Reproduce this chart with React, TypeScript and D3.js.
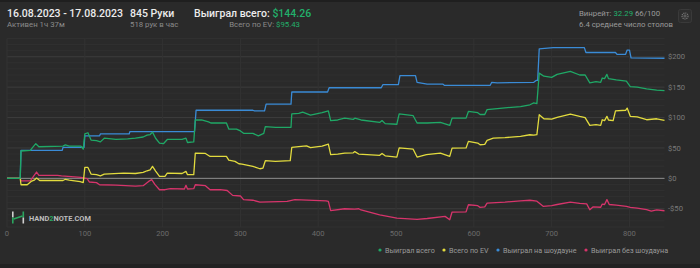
import React from "react";
import * as d3 from "d3";

type Pt = [number, number];

const xTicks = [0, 100, 200, 300, 400, 500, 600, 700, 800];
const yTicks = [-50, 0, 50, 100, 150, 200];
const yTickLabels = ["-$50", "$0", "$50", "$100", "$150", "$200"];
const legendLabels = ["Выиграл всего", "Всего по EV", "Выиграл на шоудауне", "Выиграл без шоудауна"];

const wonTotal: Pt[] = [[0,0],[17,0],[18,45],[30,46],[33,51],[37,57],[41,52],[72,53],[75,55],[80,53],[95,53],[98,48],[100,73],[104,75],[108,63],[115,62],[120,60],[125,66],[140,64],[155,65],[165,66],[175,68],[180,71],[184,72],[187,76],[191,66],[196,58],[201,57],[206,64],[225,64],[230,66],[232,59],[240,60],[242,96],[250,96],[259,93],[262,91],[282,91],[285,81],[295,81],[300,78],[304,74],[316,74],[323,70],[330,74],[332,85],[345,84],[365,84],[366,106],[375,107],[380,109],[390,104],[405,108],[413,111],[416,95],[425,96],[434,99],[445,97],[447,99],[455,96],[479,92],[482,95],[486,90],[501,89],[504,106],[522,103],[527,91],[540,91],[557,92],[569,87],[572,99],[590,99],[593,110],[605,108],[608,105],[614,105],[617,113],[640,116],[660,118],[672,121],[677,124],[681,123],[684,173],[690,168],[700,166],[707,171],[724,176],[736,170],[743,170],[749,157],[757,159],[763,158],[765,165],[768,164],[771,171],[773,164],[783,162],[796,160],[801,151],[810,150],[822,147],[835,145],[845,144.26]];

const evTotal: Pt[] = [[0,0],[17,0],[18,-10.5],[26,-10.5],[31,-5],[35,-3],[38,0.5],[42,-3.5],[72,-3.5],[75,-1.5],[80,-3],[94,-5.5],[98,-7],[100,18],[104,18],[108,7],[115,6],[120,4],[125,7],[150,8.7],[165,8],[175,10],[180,12.5],[184,14],[187,19.7],[191,12],[196,3.3],[203,3.3],[206,8.7],[225,8],[230,11.5],[232,6],[240,6],[242,41.6],[255,41],[261,36],[282,36],[285,30],[293,28],[298,24],[302,23.5],[316,19.7],[325,15.8],[329,17],[332,29],[345,28],[364,29],[366,51],[378,52.6],[385,53.5],[390,50.5],[405,53],[413,56.4],[416,39],[425,40],[434,41.6],[445,42],[447,44],[452,40],[479,37.8],[482,41],[486,37],[501,35],[504,50],[522,48],[527,35],[539,39],[557,41.6],[569,36.2],[572,49.8],[590,50],[593,60.8],[605,58],[608,55.3],[614,56],[617,62.5],[625,66.3],[640,67],[660,69],[672,71.7],[677,71],[681,72],[684,104.6],[690,98],[700,97.5],[707,100.3],[724,105.8],[736,102],[743,100],[749,87.2],[757,88.5],[763,87.2],[765,96.4],[768,95],[771,102],[773,96],[779,95],[782,111],[795,112],[797,115.6],[801,102],[810,101],[822,96.4],[835,98],[845,95.43]];

const showdown: Pt[] = [[0,0],[17,0],[18,46],[71,46],[72,51],[99,51],[100,70],[119,70],[120,73],[157,73],[158,77],[241,77],[243,112],[316,112],[318,111],[331,111],[333,122],[365,122],[366,142],[412,142],[414,149],[481,149],[483,154],[503,154],[505,169],[525,169],[527,158],[540,155],[560,155],[562,153],[621,153],[623,158],[630,157],[677,158],[680,161],[682,161],[684,213],[702,215],[742,215],[744,207],[782,207],[784,204],[795,204],[797,211],[800,211],[802,198],[845,197.5]];

const nonShowdown: Pt[] = [[0,0],[17,0],[18,-4],[30,-4],[34,3.3],[38,10.4],[41,5],[65,5],[70,4],[95,1.6],[100,0.5],[103,-0.5],[106,-6],[115,-7],[119,-10.5],[140,-11],[165,-12.7],[175,-12],[182,-5],[186,-2.2],[190,-10],[196,-18.7],[203,-18.7],[210,-17],[228,-17.5],[230,-11.5],[232,-17.5],[240,-17],[242,-10.5],[255,-12],[261,-18.7],[274,-18.7],[283,-20],[290,-28],[300,-29],[304,-35],[316,-36],[325,-39],[360,-38],[370,-35],[410,-37],[413,-38],[416,-53],[434,-50],[447,-50.5],[452,-50],[455,-52],[479,-60],[501,-65.3],[527,-67.4],[540,-66],[563,-62.5],[569,-68],[572,-55.4],[590,-55],[593,-43.4],[605,-45],[608,-47.7],[614,-47],[617,-40.6],[640,-39],[660,-37],[672,-36],[681,-37.5],[689,-46],[700,-45],[707,-43],[724,-39],[736,-41],[745,-42],[749,-51.6],[753,-47],[763,-47.5],[765,-42.3],[768,-43],[771,-35],[774,-43],[783,-44],[796,-46],[801,-47.7],[810,-49],[822,-51.6],[828,-54],[835,-52],[845,-53.3]];

const GREEN = "#1fa866";
const YELLOW = "#e2db3e";
const BLUE = "#3a8bd6";
const PINK = "#d6346b";
const legendColors = [GREEN, YELLOW, BLUE, PINK];

const W = 700, H = 268;
const FONT = "Roboto, 'Noto Sans', sans-serif";

export default function App() {
  const x = d3.scaleLinear().domain([0, 845]).range([7, 664.5]);
  const y = d3.scaleLinear().domain([-80, 230]).range([227, 38.5]);
  const line = d3.line<Pt>().x(d => x(d[0])).y(d => y(d[1])).curve(d3.curveLinear);
  const minor = d3.range(-80, 231, 10);
  const legendX = [380, 444, 498, 586];

  return (
    <svg width={W} height={H} style={{ position: "absolute", left: 0, top: 0, display: "block" }} fontFamily={FONT}>
      <rect x={0} y={0} width={W} height={H} fill="#2a2a2a" />
      <rect x={0} y={0} width={W} height={2} fill="#1f1f1f" />
      <rect x={0} y={264} width={W} height={4} fill="#222" />

      {/* header */}
      <text x={7} y={17.3} fill="#ececec" fontSize={10.5} fontWeight={500}>16.08.2023 - 17.08.2023</text>
      <text x={7} y={27.3} fill="#8a8a8a" fontSize={7.8}>Активен 1ч 37м</text>
      <text x={130} y={17.3} fill="#ececec" fontSize={10.5} fontWeight={500}>845 Руки</text>
      <text x={130} y={27.3} fill="#8a8a8a" fontSize={7.8}>518 рук в час</text>
      <text x={194} y={17.3} fill="#ececec" fontSize={10.5} fontWeight={500}>Выиграл всего: <tspan fill="#22b06b">$144.26</tspan></text>
      <text x={300} y={27.3} fill="#8a8a8a" fontSize={7.8} textAnchor="end">Всего по EV: <tspan fill="#22b06b">$95.43</tspan></text>
      <text x={579} y={16} fill="#9a9a9a" fontSize={7.8}>Винрейт: <tspan fill="#22b06b">32.29</tspan> 66/100</text>
      <text x={579} y={26.7} fill="#9a9a9a" fontSize={7.8}>6.4 среднее число столов</text>
      <rect x={678.5} y={9.5} width={13} height={13} rx={2} fill="#2e2e2e" stroke="#3a3a3a" />
      <circle cx={685} cy={16} r={3} fill="none" stroke="#777" strokeWidth={1.2} strokeDasharray="1.2 0.8" />
      <circle cx={685} cy={16} r={1.1} fill="none" stroke="#777" strokeWidth={0.8} />

      {/* grid */}
      {minor.map(v => (
        <line key={"m" + v} x1={7} x2={664.5} y1={y(v)} y2={y(v)} stroke={v % 50 === 0 ? "#3c3c3c" : "#303030"} strokeWidth={1} />
      ))}
      {xTicks.map(t => (
        <line key={"v" + t} x1={x(t)} x2={x(t)} y1={38.5} y2={227} stroke="#323232" strokeWidth={1} />
      ))}
      <line x1={7} x2={664.5} y1={y(0)} y2={y(0)} stroke="#8c8c8c" strokeWidth={1} />

      {/* axes labels */}
      {yTicks.map((t, i) => (
        <text key={"yl" + t} x={668} y={y(t)} dy="0.35em" fill="#7a7a7a" fontSize={7.6}>{yTickLabels[i]}</text>
      ))}
      {xTicks.map(t => (
        <text key={"xl" + t} x={x(t)} y={233} dy="0.35em" fill="#6a6a6a" fontSize={7.6} textAnchor="middle">{t}</text>
      ))}

      {/* logo */}
      <g>
        <rect x={12} y={211.5} width={1.6} height={6} fill="#cfcfcf" />
        <rect x={12} y={217.5} width={1.6} height={6} fill="#2aa55e" />
        <rect x={22.5} y={211.5} width={1.6} height={6} fill="#2aa55e" />
        <rect x={22.5} y={217.5} width={1.6} height={6} fill="#cfcfcf" />
        <line x1={13.6} y1={219} x2={22.5} y2={216} stroke="#2aa55e" strokeWidth={1.6} />
        <text x={29} y={218} dy="0.35em" fill="#bdbdbd" fontSize={7.4} fontWeight={700}>HAND<tspan fill="#2aa55e">2</tspan>NOTE.COM</text>
      </g>

      {/* series */}
      <path d={line(showdown) || ""} fill="none" stroke={BLUE} strokeWidth={1.3} strokeLinejoin="round" />
      <path d={line(nonShowdown) || ""} fill="none" stroke={PINK} strokeWidth={1.3} strokeLinejoin="round" />
      <path d={line(evTotal) || ""} fill="none" stroke={YELLOW} strokeWidth={1.3} strokeLinejoin="round" />
      <path d={line(wonTotal) || ""} fill="none" stroke={GREEN} strokeWidth={1.3} strokeLinejoin="round" />

      {/* legend */}
      {legendLabels.map((l, i) => (
        <g key={l}>
          <circle cx={legendX[i]} cy={250} r={1.6} fill={legendColors[i]} />
          <text x={legendX[i] + 5} y={250} dy="0.35em" fill="#9a9a9a" fontSize={7.2}>{l}</text>
        </g>
      ))}
    </svg>
  );
}
